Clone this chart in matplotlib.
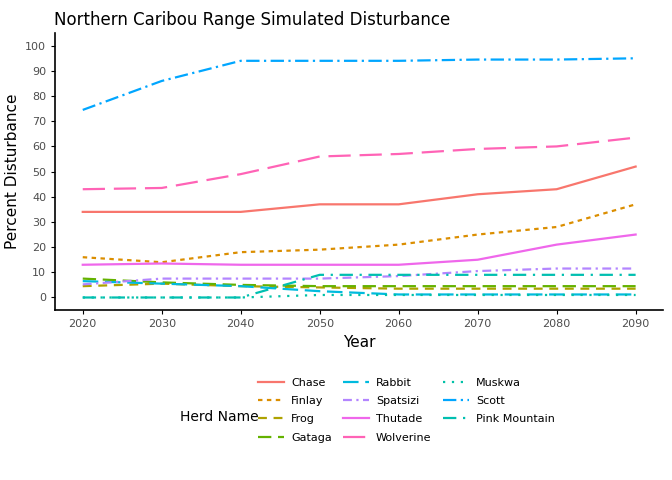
import numpy as np
import matplotlib.pyplot as plt

years = [2020, 2030, 2040, 2050, 2060, 2070, 2080, 2090]
chase = [34, 34, 34, 37, 37, 41, 43, 52]
finlay = [16, 14, 18, 19, 21, 25, 28, 37]
frog = [4.5, 5.5, 4.5, 4, 3.5, 3.5, 3.5, 3.5]
gataga = [7.5, 6, 5, 4.5, 4.5, 4.5, 4.5, 4.5]
rabbit = [6.5, 5.5, 4.5, 2.5, 1.2, 1.2, 1.2, 1.2]
spatsizi = [5.2, 7.5, 7.5, 7.5, 8.5, 10.5, 11.5, 11.5]
thutade = [13, 13.5, 13, 13, 13, 15, 21, 25]
wolverine = [43, 43.5, 49, 56, 57, 59, 60, 63.5]
muskwa = [0, 0, 0, 1, 1, 1, 1, 1]
scott = [74.5, 86, 94, 94, 94, 94.5, 94.5, 95]
pink_mountain = [0, 0, 0, 9, 9, 9, 9, 9]

series = [
    ('Chase', chase, '#F8766D', '-'),
    ('Finlay', finlay, '#DB8E00', (0, (2, 2))),
    ('Frog', frog, '#AEA200', (0, (4, 3))),
    ('Gataga', gataga, '#64B200', (0, (6, 3))),
    ('Rabbit', rabbit, '#00BADE', (0, (7, 3))),
    ('Spatsizi', spatsizi, '#B385FF', (0, (4, 2, 1, 2))),
    ('Thutade', thutade, '#EF67EB', '-'),
    ('Wolverine', wolverine, '#FF63B6', (0, (10, 4))),
    ('Muskwa', muskwa, '#00C1A7', (0, (1, 3))),
    ('Scott', scott, '#00A6FF', (0, (6, 2, 1, 2))),
    ('Pink Mountain', pink_mountain, '#00BFB0', (0, (6, 3, 1, 3))),
]

fig = plt.figure(figsize=(6.72, 4.8), dpi=100)
ax = fig.add_axes([0.082, 0.354, 0.905, 0.577])
for name, vals, col, ls in series:
    ax.plot(years, vals, color=col, linestyle=ls, lw=1.6, label=name)

ax.set_xlim(2016.5, 2093.5)
ax.set_ylim(-5, 105)
ax.set_xticks(years)
ax.set_yticks(range(0, 101, 10))
ax.spines['top'].set_visible(False)
ax.spines['right'].set_visible(False)
for s in ['left', 'bottom']:
    ax.spines[s].set_linewidth(1.2)
ax.tick_params(labelsize=8, length=3, colors='black', labelcolor='#4d4d4d')
ax.set_xlabel('Year', fontsize=11)
ax.set_ylabel('Percent Disturbance', fontsize=11)
ax.set_title('Northern Caribou Range Simulated Disturbance', loc='left', fontsize=12, x=-0.002)

h, l = ax.get_legend_handles_labels()
leg = fig.legend(h, l, loc='upper left', bbox_to_anchor=(0.375, 0.225), ncol=3, frameon=False,
                 fontsize=8, handlelength=2.4, handletextpad=0.6, columnspacing=1.0,
                 labelspacing=0.75, borderpad=0)
fig.text(0.268, 0.122, 'Herd Name', fontsize=10)
fig.savefig('out.png')
